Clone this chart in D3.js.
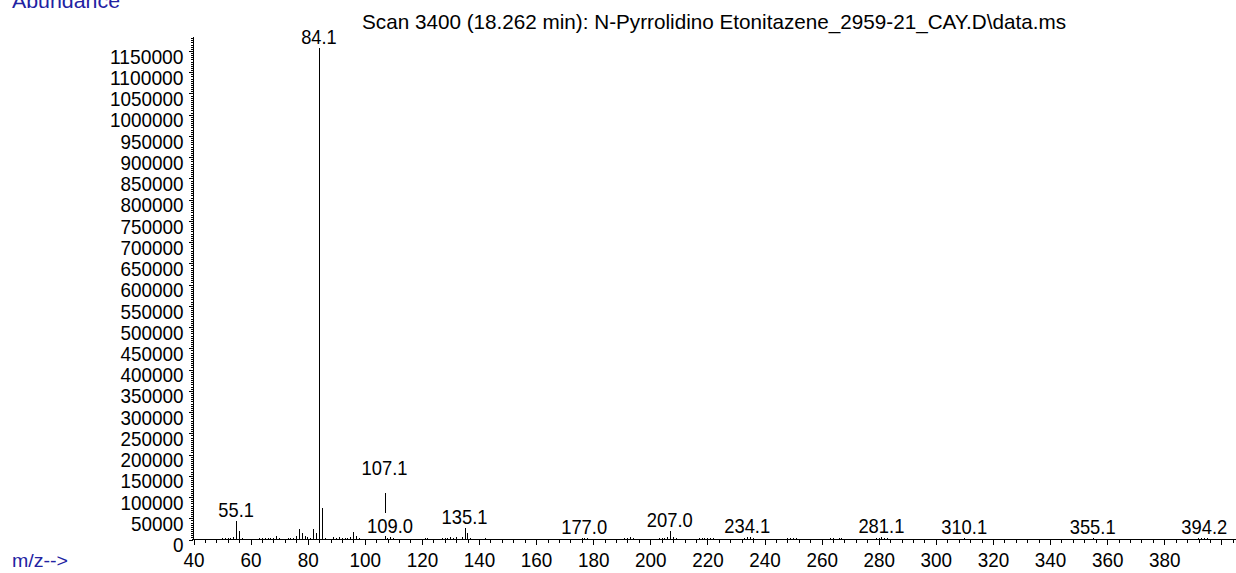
<!DOCTYPE html>
<html>
<head>
<meta charset="utf-8">
<style>
  body { margin: 0; background: #fff; }
  svg text { font-family: "Liberation Sans", Arial, sans-serif; }
</style>
</head>
<body>
<div id="chart"></div>
<script src="https://cdn.jsdelivr.net/npm/d3@7"></script>
<script>
// peaks (m/z, abundance)
const mz = [50.1, 51.1, 52.1, 53.1, 54.1, 55.1, 56.1, 57.1,
  63.1, 64.1, 65.1, 66.1, 67.1, 68.1, 69.1, 70.1, 73.1, 74.1, 75.1,
  76.1, 77.1, 78.1, 79.1, 80.1, 81.1, 82.1, 83.1, 84.1, 85.1, 86.1,
  89.1, 90.1, 91.1, 92.1, 93.1, 94.1, 95.1, 96.1, 97.1, 98.1,
  107.1, 108.1, 109.0, 110.1, 121.1, 122.1,
  127.1, 128.1, 129.1, 130.1, 131.1, 132.1, 134.1, 135.1, 136.1, 137.1, 142.1,
  176.1, 177.0, 178.1, 191.1, 192.1, 193.1, 194.1,
  203.1, 204.1, 205.1, 206.1, 207.0, 208.1, 209.1,
  217.1, 218.1, 219.1, 220.1, 221.1, 222.1,
  233.1, 234.1, 235.1, 236.1, 248.1, 249.1, 250.1, 251.1,
  263.1, 264.1, 266.1, 267.1, 279.1, 280.1, 281.1, 282.1, 283.1,
  310.1, 355.1, 392.1, 393.1, 394.2, 395.1];
const abundance = [2000, 2500, 3000, 3500, 4000, 42000, 19500, 3500,
  2500, 2000, 3000, 2500, 3500, 3000, 6000, 2500, 2500, 2000, 3000,
  7000, 23000, 14000, 7000, 5000, 3000, 23000, 14000, 1156000, 73000, 3000,
  5000, 3000, 4000, 2500, 3000, 3500, 4000, 16000, 8000, 3000,
  108000, 3000, 5000, 2000, 2000, 2500,
  3000, 3500, 3000, 4000, 3000, 5000, 4000, 27000, 15000, 3000, 3500,
  2000, 3000, 2500, 2500, 3000, 4000, 2500,
  2500, 3500, 3000, 5000, 20000, 5000, 2500,
  2000, 2500, 2000, 2500, 2000, 2000,
  3000, 5000, 4000, 2500, 2000, 2500, 2000, 2500,
  2000, 2500, 2000, 2500, 3000, 3500, 5000, 2500, 2000,
  1500, 1200, 2000, 2500, 3000, 2000];
const labeledMz = [55.1, 84.1, 107.1, 109.0, 135.1, 177.0, 207.0, 234.1, 281.1, 310.1, 355.1, 394.2];

const xMajor = d3.range(40, 401, 20);
const xTickLabels = [40, 60, 80, 100, 120, 140, 160, 180, 200, 220, 240, 260, 280, 300, 320, 340, 360, 380];
const yMajor = d3.range(0, 1150001, 50000);
const title = "Scan 3400 (18.262 min): N-Pyrrolidino Etonitazene_2959-21_CAY.D\\data.ms";

const W = 1236, H = 573;
const blue = "#2222a2";
const fontPx = "21px";

// narrow, tall digits like the instrument's bitmap font
function narrow(sel) {
  sel.style("font-size", fontPx)
    .attr("lengthAdjust", "spacingAndGlyphs")
    .attr("textLength", function () {
      const s = this.textContent;
      if (!s) return null;
      let w = 0;
      for (const c of s) w += c === "." ? 4 : 10.5;
      return w;
    });
}

const svg = d3.select("#chart").append("svg")
  .attr("width", W).attr("height", H);

const x = d3.scaleLinear().domain([40, 405.3]).range([193, 1236]);
const y = d3.scaleLinear().domain([0, 1184000]).range([539, 36]);

// axes
const yMinor = svg.append("g")
  .attr("transform", "translate(192.5,0.5)")
  .attr("shape-rendering", "crispEdges")
  .call(d3.axisLeft(y).tickValues(d3.range(0, 1184000, 5000)).tickSize(2).tickSizeOuter(0).tickFormat(""));
yMinor.select(".domain").remove();

const yAxis = svg.append("g")
  .attr("transform", "translate(192.5,0.5)")
  .attr("shape-rendering", "crispEdges")
  .call(d3.axisLeft(y).tickValues(yMajor).tickSize(4).tickSizeOuter(0).tickPadding(5).tickFormat(d3.format("d")));
yAxis.selectAll("text")
  .attr("dy", "0.58em")
  .attr("fill", "#000")
  .call(narrow);

const xMinorG = svg.append("g")
  .attr("transform", "translate(0.5,539.5)")
  .attr("shape-rendering", "crispEdges")
  .call(d3.axisBottom(x).tickValues(d3.range(40, 405, 4)).tickSize(3).tickSizeOuter(0).tickFormat(""));
xMinorG.select(".domain").remove();

const xAxis = svg.append("g")
  .attr("transform", "translate(0.5,539.5)")
  .attr("shape-rendering", "crispEdges")
  .call(d3.axisBottom(x).tickValues(xMajor).tickSize(5).tickSizeOuter(0).tickPadding(8)
    .tickFormat(d => xTickLabels.includes(d) ? d : ""));
xAxis.select(".domain").attr("d", `M${192 - 0.5},0H${W}`);
xAxis.selectAll("text")
  .attr("fill", "#000")
  .call(narrow);

// peaks
svg.append("g")
  .attr("shape-rendering", "crispEdges")
  .selectAll("line")
  .data(mz.map((m, i) => ({ m, a: abundance[i] })))
  .join("line")
  .attr("x1", d => Math.round(x(d.m)) + 0.5)
  .attr("x2", d => Math.round(x(d.m)) + 0.5)
  .attr("y1", y(0))
  .attr("y2", d => Math.round(y(d.a)))
  .attr("stroke", "#000")
  .attr("stroke-width", 1);

// peak labels with white backing, stacked when they collide
const labelG = svg.append("g");
const labels = labeledMz.map(m => {
  const a = abundance[mz.indexOf(m)];
  const t = labelG.append("text")
    .attr("x", x(m))
    .attr("text-anchor", "middle")
    .text(m.toFixed(1))
    .call(narrow);
  const w = +t.attr("textLength");
  return { m, a, t, w, base: Math.round(y(a)) - 4, x0: x(m) - w / 2, x1: x(m) + w / 2 };
});
labels.forEach(l => {
  labels.forEach(o => {
    if (o === l) return;
    const overlap = l.x0 < o.x1 + 2 && o.x0 < l.x1 + 2;
    if (overlap && l.a > o.a) l.base = Math.min(l.base, o.base - 58);
  });
});
labels.forEach(l => {
  labelG.insert("rect", "text")
    .attr("x", l.x0 - 1)
    .attr("y", l.base - 20)
    .attr("width", l.w + 2)
    .attr("height", 23)
    .attr("fill", "#fff");
  l.t.attr("y", l.base);
});

// titles
svg.append("text")
  .attr("x", 362).attr("y", 29)
  .attr("textLength", 704).attr("lengthAdjust", "spacingAndGlyphs")
  .style("font-size", "21px")
  .text(title);

svg.append("text")
  .attr("x", 12).attr("y", 8)
  .attr("textLength", 108).attr("lengthAdjust", "spacingAndGlyphs")
  .style("font-size", "20px")
  .attr("fill", blue)
  .text("Abundance");

svg.append("text")
  .attr("x", 12).attr("y", 567)
  .attr("textLength", 56).attr("lengthAdjust", "spacingAndGlyphs")
  .style("font-size", "18px")
  .attr("fill", blue)
  .text("m/z-->");
</script>
</body>
</html>
